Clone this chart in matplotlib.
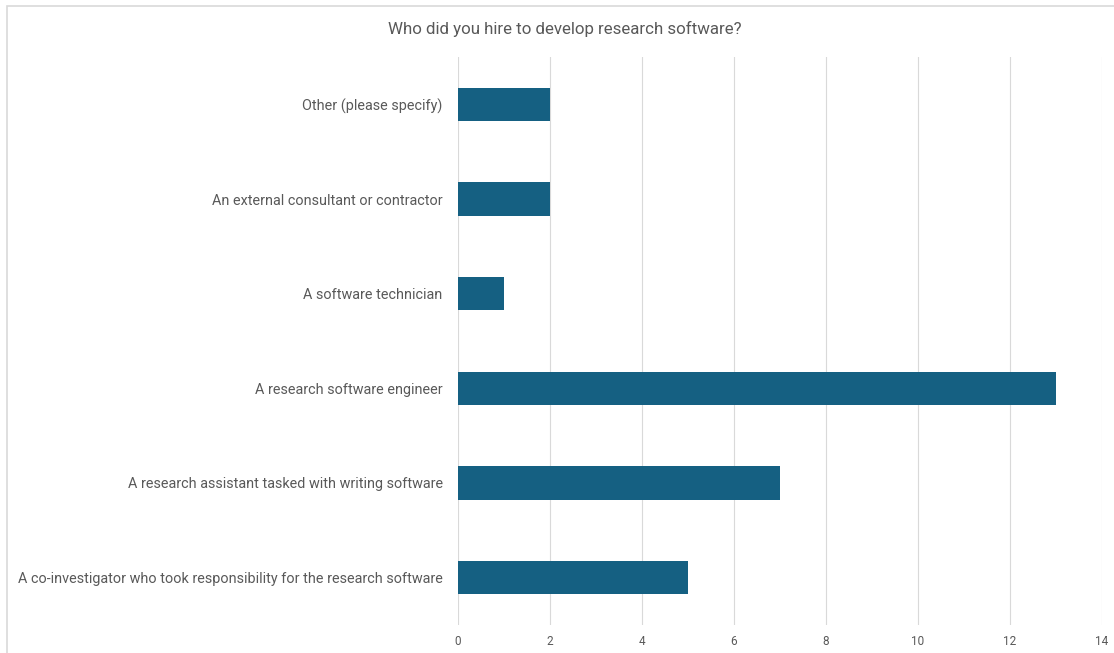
"""Horizontal bar chart: who was hired to develop research software."""

import matplotlib
matplotlib.use("Agg")
import matplotlib.pyplot as plt
from matplotlib.patches import Rectangle

roles = [
    "A co-investigator who took responsibility for the research software",
    "A research assistant tasked with writing software",
    "A research software engineer",
    "A software technician",
    "An external consultant or contractor",
    "Other (please specify)",
]
counts = [5, 7, 13, 1, 2, 2]
x_ticks = [0, 2, 4, 6, 8, 10, 12, 14]

BAR_COLOR = "#156082"
TEXT_COLOR = "#595959"
GRID_COLOR = "#d9d9d9"

plt.rcParams["font.family"] = ["Roboto", "DejaVu Sans"]

fig = plt.figure(figsize=(11.14, 6.53), dpi=100)
ax = fig.add_axes([0.4111, 0.0429, 0.5781, 0.8698])

# chart frame
fig.patches.append(Rectangle((7 / 1114, -0.02), 1.02, 1 - 6 / 653 + 0.02,
                             transform=fig.transFigure, fill=False,
                             edgecolor=GRID_COLOR, linewidth=1.2))

ax.barh(range(len(roles)), counts, height=0.35, color=BAR_COLOR, zorder=3)
ax.set_ylim(-0.5, len(roles) - 0.5)
ax.set_xlim(0, 14)
ax.set_xticks(x_ticks)
ax.set_xticklabels([str(t) for t in x_ticks])
ax.set_yticks(range(len(roles)))
ax.set_yticklabels(roles)

ax.grid(axis="x", color=GRID_COLOR, linewidth=0.8, zorder=0)
for side in ("top", "right", "bottom", "left"):
    ax.spines[side].set_visible(False)
ax.tick_params(axis="y", length=0, pad=11, labelsize=10.4, labelcolor=TEXT_COLOR)
ax.tick_params(axis="x", length=0, pad=7, labelsize=8.5, labelcolor=TEXT_COLOR)

fig.text(565 / 1114, 1 - 29 / 653, "Who did you hire to develop research software?",
         ha="center", va="center", fontsize=12.2, color=TEXT_COLOR)

fig.savefig("out.png", dpi=100)
plt.close(fig)
